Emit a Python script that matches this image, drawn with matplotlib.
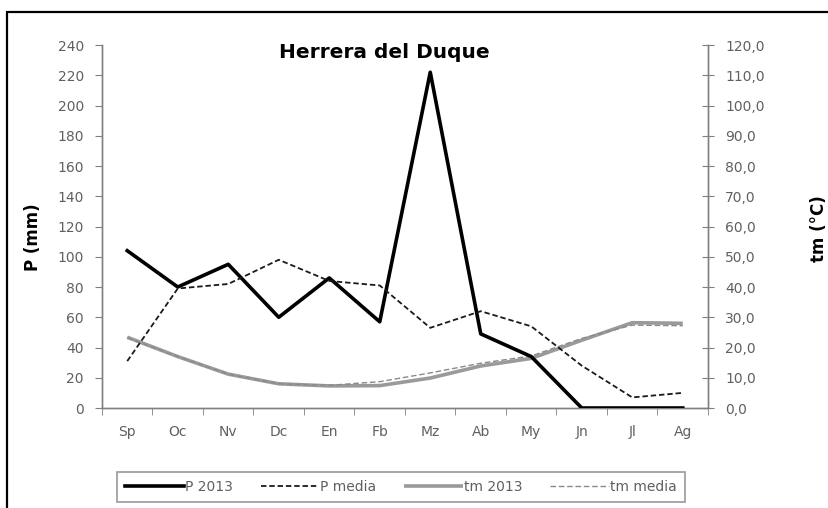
import matplotlib
matplotlib.use("Agg")
import matplotlib.pyplot as plt
from matplotlib.patches import Rectangle

plt.rcParams['font.family'] = ['DejaVu Sans']

months = ["Sp", "Oc", "Nv", "Dc", "En", "Fb", "Mz", "Ab", "My", "Jn", "Jl", "Ag"]
p_2013 = [104, 80, 95, 60, 86, 57, 222, 49, 34, 0, 0, 0]
p_media = [31, 79, 82, 98, 84, 81, 53, 64, 54, 28, 7, 10]
tm_2013 = [23.4, 17.0, 11.2, 8.0, 7.3, 7.4, 9.9, 13.9, 16.4, 22.4, 28.2, 28.0]
tm_media = [23.2, 17.0, 11.2, 8.0, 7.5, 8.7, 11.6, 14.8, 17.2, 23.0, 27.4, 27.2]
p_ticks = list(range(0, 241, 20))
tm_ticks = list(range(0, 121, 10))

W, H = 829, 508
fig = plt.figure(figsize=(W / 100, H / 100), dpi=100)

# outer frame (cropped on right and bottom)
fig.patches.append(Rectangle((7 / W, -0.1), 1.2, 1 - 12 / H + 0.1, transform=fig.transFigure,
                             fill=False, edgecolor='black', linewidth=1.6, zorder=0))

L, R, T, B = 102, 708, 45, 408
ax = fig.add_axes([L / W, 1 - B / H, (R - L) / W, (B - T) / H])
ax2 = ax.twinx()

x = list(range(len(months)))
gray_txt = '#606060'
spine_c = '#808080'

l3, = ax2.plot(x, tm_2013, color='#9a9a9a', lw=2.6, solid_capstyle='butt', zorder=2)
l4, = ax2.plot(x, tm_media, color='#8a8a8a', lw=1.0, linestyle=(0, (4, 2)), zorder=3)
l1, = ax2.plot(x, [v / 2 for v in p_2013], color='black', lw=2.6, zorder=4)
l2, = ax2.plot(x, [v / 2 for v in p_media], color='#1a1a1a', lw=1.3, linestyle=(0, (3, 1.6)), zorder=4)

ax.set_xlim(-0.5, 11.5)
ax.set_ylim(0, 240)
ax2.set_ylim(0, 120)
ax.set_yticks(p_ticks)
ax2.set_yticks(tm_ticks)
ax2.set_yticklabels([f"{v:.1f}".replace('.', ',') for v in tm_ticks])
ax.set_xticks(x)
ax.set_xticklabels(months)
ax.set_xticks([i - 0.5 for i in range(13)], minor=True)

for a in (ax, ax2):
    a.spines['top'].set_visible(False)
    for s in ('left', 'right', 'bottom'):
        a.spines[s].set_color(spine_c)
        a.spines[s].set_linewidth(1.0)
    a.patch.set_visible(False)

ax.tick_params(axis='x', which='major', length=0, pad=12, labelsize=10, labelcolor=gray_txt)
ax.tick_params(axis='x', which='minor', length=5, direction='out', color=spine_c)
ax.tick_params(axis='y', length=5, direction='out', color=spine_c, labelsize=10,
               labelcolor=gray_txt, pad=8)
ax2.tick_params(axis='y', length=9, direction='inout', color=spine_c, labelsize=10,
                labelcolor=gray_txt, pad=8)

fig.text(33 / W, 1 - 237 / H, "P (mm)", rotation=90, ha='center', va='center',
         fontsize=12, fontweight='bold', color='black')
fig.text(819 / W, 1 - 229 / H, "tm (°C)", rotation=90, ha='center', va='center',
         fontsize=12, fontweight='bold', color='black')
fig.text(384 / W, 1 - 52 / H, "Herrera del Duque", ha='center', va='center',
         fontsize=14.5, fontweight='bold', color='black')

leg = fig.legend([l1, l2, l3, l4], ["P 2013", "P media", "tm 2013", "tm media"],
                 loc='center', bbox_to_anchor=(401 / W, 1 - 487 / H), ncol=4,
                 frameon=True, fancybox=False, fontsize=10, handlelength=4.2,
                 handletextpad=0.1, columnspacing=2.0, borderpad=0.6)
leg.get_frame().set_edgecolor('#808080')
leg.get_frame().set_linewidth(1.2)
for t in leg.get_texts():
    t.set_color(gray_txt)

fig.savefig("out.png", dpi=100)
